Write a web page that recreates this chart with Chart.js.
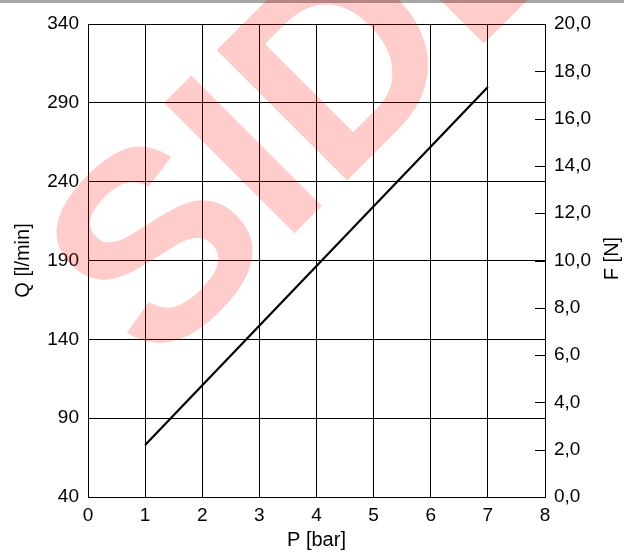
<!DOCTYPE html>
<html>
<head>
<meta charset="utf-8">
<script src="https://cdn.jsdelivr.net/npm/chart.js@4"></script>
<style>
  html, body { margin: 0; padding: 0; background: #fff; }
  #wrap { width: 624px; height: 553px; position: relative; }
</style>
</head>
<body>
<div id="wrap"><canvas id="c" width="624" height="553"></canvas></div>
<script>
// ---- data ----
const pressure = [1, 7];            // P [bar]
const flow = [73, 300];             // Q [l/min]
const xTicks = [0, 1, 2, 3, 4, 5, 6, 7, 8];
const qTicks = [40, 90, 140, 190, 240, 290, 340];
const fTicks = [0, 2, 4, 6, 8, 10, 12, 14, 16, 18, 20];
const xTitle = 'P [bar]';
const qTitle = 'Q [l/min]';
const fTitle = 'F [N]';
const watermark = 'SIDE';

const FONT = "'Liberation Sans', Arial, sans-serif";
const TICK_SIZE = 19;
const TITLE_SIZE = 20;

const decorPlugin = {
  id: 'decor',
  beforeDraw(chart) {
    const ctx = chart.ctx;
    ctx.save();
    ctx.fillStyle = '#a6a6a6';
    ctx.fillRect(0, 0, chart.width, 3);
    ctx.restore();
  },
  afterDatasetsDraw(chart) {
    const ctx = chart.ctx;
    const s = chart.scales.y2;
    ctx.save();
    ctx.strokeStyle = '#000';
    ctx.lineWidth = 1;
    s.ticks.forEach(t => {
      const y = Math.round(s.getPixelForValue(t.value)) + 0.5;
      ctx.beginPath();
      ctx.moveTo(s.left - 10, y);
      ctx.lineTo(s.left, y);
      ctx.stroke();
    });
    // right axis title (reads bottom to top)
    ctx.fillStyle = '#000';
    ctx.font = TITLE_SIZE + 'px ' + FONT;
    ctx.textAlign = 'center';
    ctx.textBaseline = 'middle';
    ctx.translate(612, (s.top + s.bottom) / 2 - 2);
    ctx.rotate(-Math.PI / 2);
    ctx.fillText(fTitle, 0, 0);
    ctx.restore();
  },
  afterDraw(chart) {
    const ctx = chart.ctx;
    ctx.save();
    ctx.fillStyle = 'rgba(255,0,0,0.2)';
    ctx.font = 'bold 268px ' + FONT;
    ctx.textAlign = 'left';
    ctx.textBaseline = 'alphabetic';
    ctx.translate(155.3, 372.2);
    ctx.rotate(-Math.PI / 4);
    ctx.fillText(watermark, 0, 0);
    ctx.restore();
  }
};

new Chart(document.getElementById('c'), {
  type: 'line',
  data: {
    datasets: [{
      data: pressure.map((p, i) => ({ x: p, y: flow[i] })),
      borderColor: '#000',
      borderWidth: 2.2,
      pointRadius: 0,
      fill: false,
      tension: 0,
      yAxisID: 'y'
    }]
  },
  options: {
    responsive: false,
    animation: false,
    devicePixelRatio: 1,
    layout: { padding: { top: 24, left: 0, right: 0, bottom: 0 } },
    plugins: { legend: { display: false }, tooltip: { enabled: false } },
    scales: {
      x: {
        type: 'linear', min: 0, max: 8,
        afterBuildTicks: s => { s.ticks = xTicks.map(v => ({ value: v })); },
        afterFit: s => { s.height = 56; },
        ticks: { color: '#000', font: { family: FONT, size: TICK_SIZE }, padding: 7, maxRotation: 0 },
        grid: { color: '#000', lineWidth: 1, drawTicks: false },
        border: { color: '#000', width: 1 },
        title: { display: true, text: xTitle, color: '#000', font: { family: FONT, size: TITLE_SIZE }, padding: { top: 0, bottom: 1 } }
      },
      y: {
        type: 'linear', position: 'left', min: 40, max: 340,
        afterBuildTicks: s => { s.ticks = qTicks.map(v => ({ value: v })); },
        afterFit: s => { s.width = 88; },
        ticks: { color: '#000', font: { family: FONT, size: TICK_SIZE }, padding: 9 },
        grid: { color: '#000', lineWidth: 1, drawTicks: false },
        border: { color: '#000', width: 1 },
        title: { display: true, text: qTitle, color: '#000', font: { family: FONT, size: TITLE_SIZE }, padding: { top: 11, bottom: 0 } }
      },
      y2: {
        type: 'linear', position: 'right', min: 0, max: 20,
        afterBuildTicks: s => { s.ticks = fTicks.map(v => ({ value: v })); },
        afterFit: s => { s.width = 79; },
        ticks: { color: '#000', font: { family: FONT, size: TICK_SIZE }, padding: 9,
          callback: v => v.toFixed(1).replace('.', ',') },
        grid: { drawOnChartArea: false, drawTicks: false },
        border: { color: '#000', width: 1 }
      }
    }
  },
  plugins: [decorPlugin]
});
</script>
</body>
</html>
